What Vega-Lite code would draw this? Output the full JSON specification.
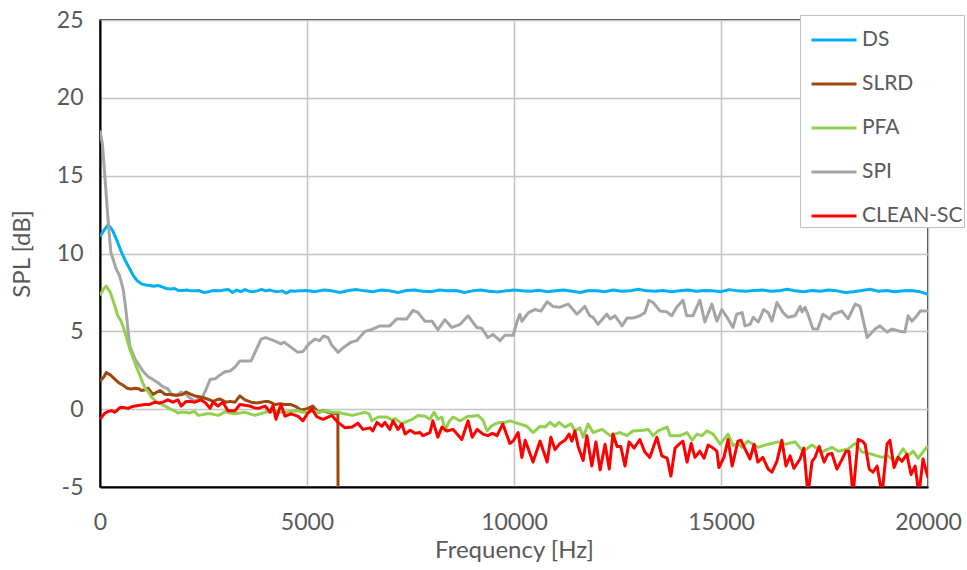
{
"$schema":"https://vega.github.io/schema/vega-lite/v6.json",
"width":828,"height":467,"autosize":"none",
"padding":{"left":100,"top":20,"right":39,"bottom":83},
"background":"white",
"config":{"view":{"stroke":"#000","strokeWidth":1.5},
"font":"Lato",
"axis":{"labelFont":"Lato","labelFontSize":23,"labelColor":"#595959","titleFont":"Lato","titleFontSize":24,"titleFontWeight":"normal","titleColor":"#595959","ticks":false,"domainColor":"#000","domainWidth":2,"gridColor":"#C4C4C4","gridWidth":1.5,"labelFlush":false,"labelOverlap":false,"labelBound":false},
"legend":{"orient":"none","legendX":700,"legendY":-5,"padding":1,"symbolType":"stroke","symbolSize":2025,"symbolStrokeWidth":3,"symbolOffset":9,"labelFont":"Lato","labelFontSize":21,"labelColor":"#595959","labelOffset":4,"rowPadding":10,"strokeColor":"#BFBFBF","fillColor":"white","title":null}},
"datasets":{
"DS":[{"f":0,"v":11.1},{"f":100,"v":11.5},{"f":200,"v":11.85},{"f":300,"v":11.5},{"f":400,"v":10.9},{"f":500,"v":10.2},{"f":600,"v":9.6},{"f":700,"v":9.1},{"f":800,"v":8.6},{"f":900,"v":8.25},{"f":1000,"v":8.05},{"f":1100,"v":7.97},{"f":1200,"v":7.95},{"f":1300,"v":7.9},{"f":1400,"v":7.95},{"f":1500,"v":7.85},{"f":1600,"v":7.75},{"f":1700,"v":7.72},{"f":1800,"v":7.75},{"f":1900,"v":7.62},{"f":2000,"v":7.62},{"f":2100,"v":7.65},{"f":2200,"v":7.6},{"f":2300,"v":7.6},{"f":2400,"v":7.62},{"f":2500,"v":7.5},{"f":2600,"v":7.52},{"f":2700,"v":7.6},{"f":2800,"v":7.62},{"f":2900,"v":7.6},{"f":3000,"v":7.65},{"f":3100,"v":7.68},{"f":3200,"v":7.5},{"f":3300,"v":7.65},{"f":3400,"v":7.55},{"f":3500,"v":7.68},{"f":3600,"v":7.58},{"f":3700,"v":7.55},{"f":3800,"v":7.6},{"f":3900,"v":7.7},{"f":4000,"v":7.6},{"f":4100,"v":7.65},{"f":4200,"v":7.58},{"f":4300,"v":7.55},{"f":4400,"v":7.6},{"f":4500,"v":7.45},{"f":4600,"v":7.6},{"f":4700,"v":7.58},{"f":4800,"v":7.6},{"f":4900,"v":7.6},{"f":5000,"v":7.62},{"f":5200,"v":7.55},{"f":5400,"v":7.65},{"f":5600,"v":7.6},{"f":5800,"v":7.5},{"f":6000,"v":7.62},{"f":6200,"v":7.68},{"f":6400,"v":7.6},{"f":6600,"v":7.55},{"f":6800,"v":7.65},{"f":7000,"v":7.6},{"f":7200,"v":7.5},{"f":7400,"v":7.62},{"f":7600,"v":7.66},{"f":7800,"v":7.58},{"f":8000,"v":7.55},{"f":8200,"v":7.65},{"f":8400,"v":7.6},{"f":8600,"v":7.62},{"f":8800,"v":7.5},{"f":9000,"v":7.6},{"f":9200,"v":7.65},{"f":9400,"v":7.58},{"f":9600,"v":7.52},{"f":9800,"v":7.6},{"f":10000,"v":7.65},{"f":10200,"v":7.6},{"f":10400,"v":7.58},{"f":10600,"v":7.64},{"f":10800,"v":7.55},{"f":11000,"v":7.6},{"f":11200,"v":7.66},{"f":11400,"v":7.58},{"f":11600,"v":7.5},{"f":11800,"v":7.62},{"f":12000,"v":7.6},{"f":12200,"v":7.55},{"f":12400,"v":7.65},{"f":12600,"v":7.58},{"f":12800,"v":7.6},{"f":13000,"v":7.7},{"f":13200,"v":7.6},{"f":13400,"v":7.58},{"f":13600,"v":7.62},{"f":13800,"v":7.55},{"f":14000,"v":7.6},{"f":14200,"v":7.65},{"f":14400,"v":7.58},{"f":14600,"v":7.62},{"f":14800,"v":7.6},{"f":15000,"v":7.55},{"f":15200,"v":7.68},{"f":15400,"v":7.6},{"f":15600,"v":7.58},{"f":15800,"v":7.62},{"f":16000,"v":7.66},{"f":16200,"v":7.58},{"f":16400,"v":7.6},{"f":16600,"v":7.7},{"f":16800,"v":7.6},{"f":17000,"v":7.55},{"f":17200,"v":7.62},{"f":17400,"v":7.58},{"f":17600,"v":7.65},{"f":17800,"v":7.6},{"f":18000,"v":7.5},{"f":18200,"v":7.55},{"f":18400,"v":7.62},{"f":18600,"v":7.7},{"f":18800,"v":7.58},{"f":19000,"v":7.62},{"f":19200,"v":7.55},{"f":19400,"v":7.6},{"f":19600,"v":7.62},{"f":19800,"v":7.55},{"f":20000,"v":7.38}],
"SLRD":[{"f":0,"v":1.8},{"f":100,"v":2.1},{"f":150,"v":2.35},{"f":250,"v":2.2},{"f":350,"v":1.95},{"f":450,"v":1.7},{"f":550,"v":1.55},{"f":650,"v":1.35},{"f":750,"v":1.3},{"f":850,"v":1.35},{"f":950,"v":1.3},{"f":1000,"v":1.2},{"f":1100,"v":1.25},{"f":1160,"v":1.35},{"f":1280,"v":0.95},{"f":1380,"v":1.1},{"f":1450,"v":1.2},{"f":1570,"v":0.95},{"f":1700,"v":0.95},{"f":1880,"v":0.9},{"f":2000,"v":0.95},{"f":2080,"v":1.1},{"f":2200,"v":0.95},{"f":2290,"v":0.85},{"f":2400,"v":0.8},{"f":2540,"v":0.7},{"f":2650,"v":0.6},{"f":2730,"v":0.5},{"f":2820,"v":0.6},{"f":2900,"v":0.65},{"f":3040,"v":0.45},{"f":3150,"v":0.5},{"f":3260,"v":0.45},{"f":3380,"v":0.85},{"f":3500,"v":0.6},{"f":3650,"v":0.45},{"f":3780,"v":0.4},{"f":3890,"v":0.45},{"f":4000,"v":0.5},{"f":4060,"v":0.5},{"f":4150,"v":0.4},{"f":4230,"v":0.3},{"f":4350,"v":0.35},{"f":4470,"v":0.3},{"f":4600,"v":0.3},{"f":4710,"v":0.2},{"f":4850,"v":-0.05},{"f":4950,"v":0.0},{"f":5020,"v":0.05},{"f":5140,"v":0.2},{"f":5270,"v":-0.2},{"f":5400,"v":-0.1},{"f":5510,"v":-0.2},{"f":5620,"v":-0.25},{"f":5745,"v":-0.3},{"f":5750,"v":-5.5}],
"PFA":[{"f":0,"v":7.3},{"f":80,"v":7.7},{"f":150,"v":7.9},{"f":250,"v":7.5},{"f":350,"v":6.7},{"f":430,"v":6.0},{"f":500,"v":5.7},{"f":560,"v":5.3},{"f":640,"v":4.6},{"f":720,"v":3.85},{"f":800,"v":3.3},{"f":880,"v":2.7},{"f":960,"v":2.2},{"f":1030,"v":1.7},{"f":1100,"v":1.3},{"f":1160,"v":1.15},{"f":1250,"v":0.75},{"f":1350,"v":0.5},{"f":1450,"v":0.35},{"f":1570,"v":0.2},{"f":1700,"v":0.0},{"f":1800,"v":-0.1},{"f":1880,"v":-0.25},{"f":1960,"v":-0.2},{"f":2050,"v":-0.2},{"f":2150,"v":-0.25},{"f":2290,"v":-0.15},{"f":2370,"v":-0.4},{"f":2480,"v":-0.35},{"f":2580,"v":-0.3},{"f":2680,"v":-0.3},{"f":2770,"v":-0.35},{"f":2850,"v":-0.4},{"f":2940,"v":-0.3},{"f":3020,"v":-0.15},{"f":3140,"v":-0.25},{"f":3260,"v":-0.3},{"f":3380,"v":-0.25},{"f":3500,"v":-0.2},{"f":3620,"v":-0.3},{"f":3740,"v":-0.4},{"f":3860,"v":-0.3},{"f":3990,"v":-0.2},{"f":4110,"v":-0.15},{"f":4230,"v":-0.1},{"f":4350,"v":-0.2},{"f":4470,"v":-0.2},{"f":4600,"v":-0.15},{"f":4780,"v":-0.1},{"f":4900,"v":-0.2},{"f":5020,"v":-0.2},{"f":5150,"v":-0.1},{"f":5300,"v":-0.2},{"f":5430,"v":-0.1},{"f":5600,"v":-0.2},{"f":5750,"v":-0.2},{"f":5900,"v":-0.3},{"f":6090,"v":-0.4},{"f":6250,"v":-0.3},{"f":6400,"v":-0.2},{"f":6500,"v":-0.3},{"f":6570,"v":-0.75},{"f":6720,"v":-0.5},{"f":6930,"v":-0.5},{"f":7050,"v":-0.7},{"f":7130,"v":-0.6},{"f":7290,"v":-0.95},{"f":7400,"v":-0.8},{"f":7540,"v":-0.65},{"f":7690,"v":-0.4},{"f":7850,"v":-0.45},{"f":7970,"v":-0.65},{"f":8070,"v":-0.2},{"f":8160,"v":-0.65},{"f":8260,"v":-0.5},{"f":8330,"v":-1.4},{"f":8430,"v":-0.8},{"f":8530,"v":-0.5},{"f":8700,"v":-0.75},{"f":8890,"v":-0.45},{"f":9000,"v":-0.45},{"f":9130,"v":-0.4},{"f":9250,"v":-0.7},{"f":9350,"v":-1.4},{"f":9450,"v":-1.1},{"f":9540,"v":-0.95},{"f":9660,"v":-0.85},{"f":9780,"v":-0.85},{"f":9900,"v":-0.75},{"f":10020,"v":-0.85},{"f":10140,"v":-0.95},{"f":10310,"v":-1.1},{"f":10460,"v":-1.5},{"f":10630,"v":-1.1},{"f":10750,"v":-1.15},{"f":10870,"v":-0.85},{"f":10990,"v":-1.1},{"f":11090,"v":-0.85},{"f":11230,"v":-1.15},{"f":11380,"v":-0.95},{"f":11470,"v":-1.4},{"f":11590,"v":-1.2},{"f":11670,"v":-1.8},{"f":11790,"v":-0.95},{"f":11910,"v":-1.5},{"f":12130,"v":-1.3},{"f":12320,"v":-1.7},{"f":12560,"v":-1.5},{"f":12730,"v":-1.7},{"f":12870,"v":-1.4},{"f":13120,"v":-1.35},{"f":13240,"v":-1.3},{"f":13360,"v":-1.7},{"f":13480,"v":-1.4},{"f":13700,"v":-1.15},{"f":13770,"v":-1.7},{"f":14010,"v":-1.7},{"f":14180,"v":-1.5},{"f":14300,"v":-2.0},{"f":14420,"v":-1.6},{"f":14540,"v":-1.7},{"f":14660,"v":-1.4},{"f":14810,"v":-1.6},{"f":14980,"v":-2.25},{"f":15170,"v":-1.6},{"f":15290,"v":-2.35},{"f":15400,"v":-2.2},{"f":15510,"v":-2.45},{"f":15650,"v":-2.05},{"f":15890,"v":-2.45},{"f":16140,"v":-2.25},{"f":16380,"v":-2.1},{"f":16550,"v":-2.25},{"f":16790,"v":-2.1},{"f":16980,"v":-2.7},{"f":17200,"v":-2.3},{"f":17440,"v":-2.75},{"f":17680,"v":-2.45},{"f":17830,"v":-2.7},{"f":18070,"v":-2.55},{"f":18240,"v":-2.2},{"f":18410,"v":-2.75},{"f":18650,"v":-2.9},{"f":18890,"v":-3.1},{"f":19030,"v":-3.0},{"f":19200,"v":-3.35},{"f":19400,"v":-2.55},{"f":19520,"v":-3.0},{"f":19640,"v":-2.7},{"f":19760,"v":-3.15},{"f":19970,"v":-2.45},{"f":20000,"v":-2.45}],
"SPI":[{"f":0,"v":17.9},{"f":60,"v":17.0},{"f":130,"v":14.5},{"f":200,"v":12.0},{"f":260,"v":10.1},{"f":390,"v":9.0},{"f":470,"v":8.6},{"f":560,"v":7.7},{"f":620,"v":6.5},{"f":680,"v":5.0},{"f":720,"v":4.05},{"f":850,"v":3.2},{"f":950,"v":2.8},{"f":1050,"v":2.4},{"f":1160,"v":2.1},{"f":1280,"v":1.9},{"f":1400,"v":1.7},{"f":1520,"v":1.45},{"f":1640,"v":1.3},{"f":1740,"v":0.9},{"f":1840,"v":0.85},{"f":1950,"v":1.1},{"f":2080,"v":0.95},{"f":2180,"v":0.7},{"f":2300,"v":0.5},{"f":2380,"v":0.65},{"f":2440,"v":0.6},{"f":2550,"v":1.2},{"f":2660,"v":1.9},{"f":2780,"v":1.95},{"f":2900,"v":2.2},{"f":3020,"v":2.4},{"f":3140,"v":2.45},{"f":3260,"v":2.7},{"f":3380,"v":3.1},{"f":3500,"v":3.1},{"f":3650,"v":3.1},{"f":3770,"v":3.8},{"f":3890,"v":4.5},{"f":4000,"v":4.6},{"f":4060,"v":4.55},{"f":4200,"v":4.4},{"f":4370,"v":4.2},{"f":4450,"v":4.3},{"f":4600,"v":4.0},{"f":4780,"v":3.65},{"f":4900,"v":3.7},{"f":5050,"v":4.2},{"f":5190,"v":4.5},{"f":5300,"v":4.4},{"f":5400,"v":4.7},{"f":5510,"v":4.6},{"f":5600,"v":4.1},{"f":5750,"v":3.65},{"f":5900,"v":4.0},{"f":6060,"v":4.3},{"f":6200,"v":4.4},{"f":6400,"v":5.0},{"f":6550,"v":5.1},{"f":6760,"v":5.35},{"f":7000,"v":5.35},{"f":7170,"v":5.8},{"f":7410,"v":5.8},{"f":7560,"v":6.35},{"f":7680,"v":6.2},{"f":7850,"v":5.65},{"f":8020,"v":5.65},{"f":8160,"v":5.1},{"f":8330,"v":5.75},{"f":8500,"v":5.25},{"f":8700,"v":5.45},{"f":8890,"v":6.0},{"f":9100,"v":5.25},{"f":9220,"v":5.2},{"f":9370,"v":4.6},{"f":9490,"v":4.8},{"f":9660,"v":4.4},{"f":9780,"v":4.75},{"f":9980,"v":4.75},{"f":10070,"v":5.6},{"f":10140,"v":6.1},{"f":10190,"v":5.65},{"f":10350,"v":6.2},{"f":10500,"v":6.4},{"f":10650,"v":6.3},{"f":10800,"v":6.9},{"f":10940,"v":6.6},{"f":11110,"v":6.55},{"f":11310,"v":6.75},{"f":11520,"v":6.1},{"f":11710,"v":6.6},{"f":11830,"v":6.0},{"f":11910,"v":5.9},{"f":12030,"v":5.45},{"f":12240,"v":6.1},{"f":12320,"v":5.8},{"f":12440,"v":6.0},{"f":12610,"v":5.35},{"f":12730,"v":5.85},{"f":12870,"v":5.85},{"f":13040,"v":6.0},{"f":13160,"v":6.2},{"f":13260,"v":7.0},{"f":13360,"v":6.85},{"f":13530,"v":6.3},{"f":13690,"v":6.25},{"f":13810,"v":6.0},{"f":13930,"v":6.55},{"f":14080,"v":7.0},{"f":14170,"v":6.0},{"f":14320,"v":6.0},{"f":14490,"v":7.0},{"f":14610,"v":5.6},{"f":14780,"v":6.75},{"f":14900,"v":5.65},{"f":15020,"v":6.4},{"f":15170,"v":5.8},{"f":15290,"v":5.25},{"f":15380,"v":6.1},{"f":15510,"v":6.2},{"f":15580,"v":5.35},{"f":15700,"v":5.45},{"f":15780,"v":5.9},{"f":15900,"v":5.6},{"f":16030,"v":6.4},{"f":16140,"v":6.2},{"f":16230,"v":5.65},{"f":16350,"v":6.85},{"f":16500,"v":6.2},{"f":16620,"v":5.9},{"f":16790,"v":6.0},{"f":16910,"v":6.6},{"f":16960,"v":6.25},{"f":17030,"v":6.55},{"f":17100,"v":6.1},{"f":17220,"v":5.15},{"f":17340,"v":5.15},{"f":17460,"v":6.1},{"f":17630,"v":5.8},{"f":17700,"v":6.1},{"f":17920,"v":6.3},{"f":18070,"v":5.8},{"f":18240,"v":6.75},{"f":18360,"v":6.6},{"f":18530,"v":4.6},{"f":18720,"v":5.15},{"f":18840,"v":5.35},{"f":19010,"v":4.95},{"f":19130,"v":5.15},{"f":19320,"v":5.0},{"f":19440,"v":4.95},{"f":19520,"v":6.0},{"f":19610,"v":5.65},{"f":19730,"v":6.0},{"f":19810,"v":6.3},{"f":20000,"v":6.3}],
"CS":[{"f":0,"v":-0.65},{"f":100,"v":-0.3},{"f":190,"v":-0.15},{"f":280,"v":-0.1},{"f":360,"v":-0.2},{"f":480,"v":0.1},{"f":580,"v":0.1},{"f":680,"v":0.05},{"f":760,"v":0.15},{"f":850,"v":0.2},{"f":970,"v":0.25},{"f":1090,"v":0.3},{"f":1200,"v":0.3},{"f":1330,"v":0.45},{"f":1420,"v":0.4},{"f":1520,"v":0.45},{"f":1640,"v":0.6},{"f":1760,"v":0.45},{"f":1880,"v":0.6},{"f":1960,"v":0.2},{"f":2080,"v":0.5},{"f":2180,"v":0.5},{"f":2290,"v":0.45},{"f":2440,"v":0.6},{"f":2550,"v":0.4},{"f":2660,"v":0.05},{"f":2730,"v":0.45},{"f":2850,"v":0.2},{"f":2970,"v":0.45},{"f":3090,"v":-0.1},{"f":3260,"v":-0.1},{"f":3380,"v":0.3},{"f":3500,"v":0.25},{"f":3620,"v":0.2},{"f":3720,"v":0.1},{"f":3820,"v":0.05},{"f":3990,"v":0.2},{"f":4110,"v":-0.2},{"f":4180,"v":0.25},{"f":4250,"v":-0.65},{"f":4370,"v":0.3},{"f":4470,"v":-0.45},{"f":4610,"v":-0.3},{"f":4780,"v":-0.45},{"f":4900,"v":-0.75},{"f":5020,"v":-0.25},{"f":5120,"v":0.0},{"f":5240,"v":-0.5},{"f":5390,"v":-0.65},{"f":5600,"v":-0.4},{"f":5750,"v":-0.85},{"f":5920,"v":-1.2},{"f":6090,"v":-1.15},{"f":6230,"v":-0.9},{"f":6350,"v":-1.3},{"f":6520,"v":-1.2},{"f":6590,"v":-1.4},{"f":6690,"v":-0.85},{"f":6810,"v":-1.1},{"f":6880,"v":-0.85},{"f":7000,"v":-1.3},{"f":7080,"v":-0.75},{"f":7200,"v":-1.3},{"f":7290,"v":-0.95},{"f":7370,"v":-1.6},{"f":7490,"v":-1.35},{"f":7610,"v":-1.55},{"f":7730,"v":-1.5},{"f":7800,"v":-1.7},{"f":7970,"v":-1.5},{"f":8040,"v":-0.75},{"f":8160,"v":-1.8},{"f":8260,"v":-1.15},{"f":8380,"v":-1.4},{"f":8530,"v":-1.3},{"f":8740,"v":-1.95},{"f":8890,"v":-0.75},{"f":8990,"v":-1.8},{"f":9110,"v":-1.3},{"f":9250,"v":-1.6},{"f":9370,"v":-1.7},{"f":9480,"v":-1.55},{"f":9590,"v":-1.7},{"f":9730,"v":-0.95},{"f":9900,"v":-2.2},{"f":9980,"v":-2.05},{"f":10100,"v":-1.5},{"f":10190,"v":-3.1},{"f":10270,"v":-2.0},{"f":10460,"v":-3.4},{"f":10630,"v":-2.05},{"f":10800,"v":-3.4},{"f":10890,"v":-1.8},{"f":10990,"v":-2.6},{"f":11110,"v":-2.2},{"f":11230,"v":-2.0},{"f":11330,"v":-1.6},{"f":11400,"v":-2.05},{"f":11470,"v":-1.4},{"f":11550,"v":-2.4},{"f":11670,"v":-3.3},{"f":11760,"v":-1.7},{"f":11880,"v":-3.65},{"f":11980,"v":-2.1},{"f":12080,"v":-3.9},{"f":12200,"v":-2.25},{"f":12300,"v":-3.85},{"f":12390,"v":-1.6},{"f":12490,"v":-2.4},{"f":12580,"v":-2.4},{"f":12680,"v":-3.65},{"f":12780,"v":-2.1},{"f":12900,"v":-2.5},{"f":13040,"v":-1.95},{"f":13160,"v":-2.75},{"f":13280,"v":-3.1},{"f":13450,"v":-1.8},{"f":13570,"v":-3.0},{"f":13700,"v":-3.15},{"f":13790,"v":-4.3},{"f":13890,"v":-2.5},{"f":14010,"v":-2.2},{"f":14080,"v":-2.05},{"f":14180,"v":-3.4},{"f":14280,"v":-2.2},{"f":14370,"v":-3.1},{"f":14490,"v":-2.7},{"f":14590,"v":-3.15},{"f":14690,"v":-2.3},{"f":14810,"v":-2.5},{"f":14900,"v":-2.7},{"f":14950,"v":-3.75},{"f":15070,"v":-3.1},{"f":15170,"v":-1.95},{"f":15270,"v":-3.65},{"f":15410,"v":-2.05},{"f":15480,"v":-2.0},{"f":15580,"v":-2.55},{"f":15700,"v":-3.2},{"f":15800,"v":-2.25},{"f":15890,"v":-3.4},{"f":16010,"v":-3.1},{"f":16140,"v":-3.85},{"f":16230,"v":-4.05},{"f":16350,"v":-3.35},{"f":16470,"v":-2.0},{"f":16570,"v":-3.65},{"f":16670,"v":-3.0},{"f":16760,"v":-3.8},{"f":16910,"v":-3.2},{"f":17000,"v":-2.5},{"f":17100,"v":-5.5},{"f":17200,"v":-3.35},{"f":17270,"v":-3.1},{"f":17370,"v":-2.4},{"f":17490,"v":-3.4},{"f":17580,"v":-2.9},{"f":17680,"v":-2.85},{"f":17800,"v":-3.85},{"f":17900,"v":-3.35},{"f":18020,"v":-2.7},{"f":18090,"v":-2.7},{"f":18190,"v":-5.5},{"f":18310,"v":-1.95},{"f":18410,"v":-2.05},{"f":18480,"v":-2.25},{"f":18580,"v":-3.85},{"f":18670,"v":-4.05},{"f":18770,"v":-3.65},{"f":18890,"v":-5.5},{"f":19010,"v":-2.25},{"f":19080,"v":-2.0},{"f":19180,"v":-3.75},{"f":19280,"v":-3.1},{"f":19370,"v":-3.35},{"f":19490,"v":-2.9},{"f":19590,"v":-4.2},{"f":19690,"v":-3.65},{"f":19780,"v":-5.5},{"f":19880,"v":-3.2},{"f":20000,"v":-4.4}]
},
"encoding":{
"x":{"field":"f","type":"quantitative","scale":{"domain":[0,20000],"nice":false,"zero":false},"axis":{"values":[0,5000,10000,15000,20000],"format":"d","labelPadding":24,"title":"Frequency [Hz]","titlePadding":4}},
"y":{"field":"v","type":"quantitative","scale":{"domain":[-5,25],"nice":false,"zero":false},"axis":{"values":[-5,0,5,10,15,20,25],"labelExpr":"'' + datum.value","labelPadding":17,"title":"SPL [dB]","titlePadding":22}}
},
"layer":[
{"data":{"name":"DS"},"mark":{"type":"line","strokeWidth":3,"clip":true,"strokeJoin":"round"},"encoding":{"color":{"datum":"DS","type":"nominal","scale":{"domain":["DS","SLRD","PFA","SPI","CLEAN-SC"],"range":["#00B0F0","#9E480E","#92D050","#A5A5A5","#FF0000"]}}}},
{"data":{"name":"SPI"},"mark":{"type":"line","strokeWidth":3,"clip":true,"strokeJoin":"round"},"encoding":{"color":{"datum":"SPI","type":"nominal"}}},
{"data":{"name":"SLRD"},"mark":{"type":"line","strokeWidth":3,"clip":true,"strokeJoin":"round"},"encoding":{"color":{"datum":"SLRD","type":"nominal"}}},
{"data":{"name":"PFA"},"mark":{"type":"line","strokeWidth":3,"clip":true,"strokeJoin":"round"},"encoding":{"color":{"datum":"PFA","type":"nominal"}}},
{"data":{"name":"CS"},"mark":{"type":"line","strokeWidth":3,"clip":true,"strokeJoin":"round"},"encoding":{"color":{"datum":"CLEAN-SC","type":"nominal"}}}
]
}
